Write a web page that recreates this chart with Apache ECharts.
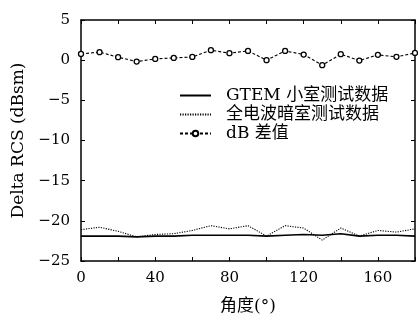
<!DOCTYPE html>
<html><head><meta charset="utf-8">
<script src="https://cdn.jsdelivr.net/npm/echarts@6/dist/echarts.min.js"></script>
<style>html,body{margin:0;padding:0;background:#fff}#c{width:418px;height:320px}</style>
</head><body><div id="c"></div>
<script>
const angles = [0,10,20,30,40,50,60,70,80,90,100,110,120,130,140,150,160,170,180];
const gtem = [-21.9,-21.9,-21.9,-22.0,-21.9,-21.9,-21.8,-21.8,-21.8,-21.8,-21.9,-21.8,-21.7,-21.8,-21.6,-21.9,-21.8,-21.8,-21.9];
const anechoic = [-21.1,-20.8,-21.3,-22.0,-21.7,-21.6,-21.2,-20.6,-21.0,-20.6,-21.9,-20.6,-20.9,-22.4,-20.9,-21.9,-21.2,-21.4,-21.0];
const diff = [0.78,1.0,0.37,-0.17,0.16,0.28,0.4,1.24,0.87,1.15,0.0,1.15,0.7,-0.62,0.74,-0.05,0.66,0.41,0.9];
const names = ['GTEM 小室测试数据','全电波暗室测试数据','dB 差值'];
const xLabel = '角度(°)';
const yLabel = 'Delta RCS (dBsm)';

const FONT = '"DejaVu Serif","Liberation Serif","Noto Sans CJK SC",serif';
const toPts = a => angles.map((x,i)=>[x,a[i]]);
const fmt = v => String(v).replace('-','\u2212');
const chart = echarts.init(document.getElementById('c'));
const axisCommon = {
  axisLine:{show:true,onZero:false,lineStyle:{color:'#000',width:1.5}},
  axisTick:{show:true,inside:true,length:4,lineStyle:{color:'#000',width:1}},
  splitLine:{show:false}
};
chart.setOption({
  animation:false,
  backgroundColor:'#fff',
  grid:{left:81,top:20,right:-2,bottom:58,containLabel:false},
  legend:{
    data:[
      {name:names[0],itemStyle:{opacity:0}},
      {name:names[1],itemStyle:{opacity:0}},
      {name:names[2]}
    ],
    orient:'vertical', left:174, top:82, itemGap:2,
    itemWidth:31, itemHeight:7,
    textStyle:{fontFamily:FONT,fontSize:17,color:'#000',padding:[0,0,0,10]}
  },
  xAxis:[
    Object.assign({type:'value',min:0,max:180,interval:20,position:'bottom',
      name:xLabel,nameLocation:'middle',nameGap:37,
      nameTextStyle:{fontFamily:FONT,fontSize:17,color:'#000'},
      axisLabel:{fontFamily:FONT,fontSize:15,color:'#000',margin:10,
        formatter:v=> (v%40===0 ? fmt(v) : '')}},axisCommon),
    Object.assign({type:'value',min:0,max:180,interval:20,position:'top',
      axisLabel:{show:false}},axisCommon)
  ],
  yAxis:[
    Object.assign({type:'value',min:-25,max:5,interval:5,position:'left',
      name:yLabel,nameLocation:'middle',nameGap:50,nameRotate:90,
      nameTextStyle:{fontFamily:FONT,fontSize:17,color:'#000'},
      axisLabel:{fontFamily:FONT,fontSize:15,color:'#000',margin:11,formatter:fmt}},axisCommon),
    Object.assign({type:'value',min:-25,max:5,interval:5,position:'right',
      axisLabel:{show:false}},axisCommon)
  ],
  series:[
    {name:names[0],type:'line',data:toPts(gtem),showSymbol:false,symbol:'none',
      lineStyle:{color:'#000',width:1.6,type:'solid'},itemStyle:{color:'#000'}},
    {name:names[1],type:'line',data:toPts(anechoic),showSymbol:false,symbol:'none',
      lineStyle:{color:'#000',width:1.1,type:[1.2,1.3]},itemStyle:{color:'#000'}},
    {name:names[2],type:'line',data:toPts(diff),symbol:'circle',symbolSize:5,
      lineStyle:{color:'#000',width:1.1,type:[3,2]},
      itemStyle:{color:'#fff',borderColor:'#000',borderWidth:1.3}}
  ]
});
</script></body></html>
